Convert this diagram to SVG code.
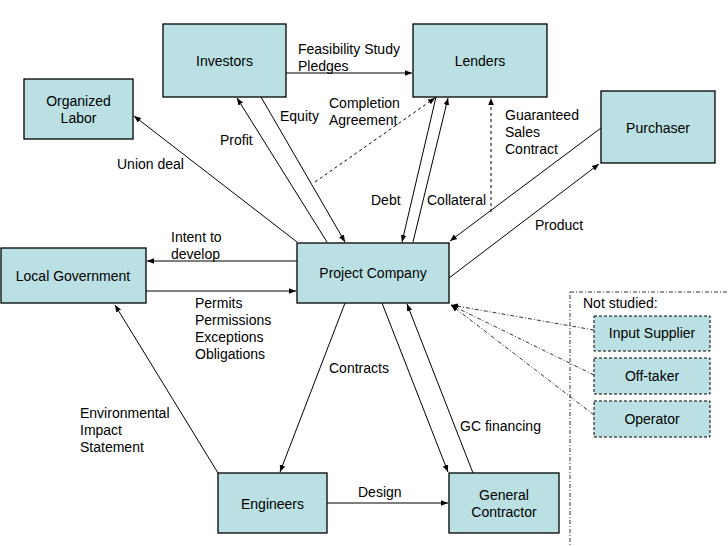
<svg xmlns="http://www.w3.org/2000/svg" width="728" height="546" viewBox="0 0 728 546">
<style>
.box{fill:#bbe0e3;stroke:#000;stroke-width:1.3}
.dbox{fill:#bbe0e3;stroke:#000;stroke-width:1;stroke-dasharray:3,2}
text{font-family:"Liberation Sans",Arial,sans-serif;font-size:14px;fill:#000}
.c{text-anchor:middle}
.ln{stroke:#000;stroke-width:1;fill:none}
.dash{stroke-dasharray:3,3}
.dd{stroke-dasharray:4,2,1,2;stroke-width:0.8}
</style>
<defs>
<marker id="ah" markerWidth="8" markerHeight="8" refX="7" refY="4" orient="auto" markerUnits="userSpaceOnUse">
<path d="M0,1.2 L7,4 L0,6.8 Z" fill="#000"/>
</marker>
</defs>
<rect x="570" y="292" width="170" height="270" fill="none" stroke="#000" stroke-width="0.8" stroke-dasharray="4,2,1,2"/>
<text x="583" y="308">Not studied:</text>
<g id="connectors">
<line class="ln" x1="286" y1="73" x2="412" y2="73" marker-end="url(#ah)"/>
<line class="ln" x1="297" y1="242" x2="134" y2="116" marker-end="url(#ah)"/>
<line class="ln" x1="327" y1="242" x2="237" y2="98" marker-end="url(#ah)"/>
<line class="ln" x1="261" y1="97" x2="345" y2="242" marker-end="url(#ah)"/>
<line class="ln" x1="436" y1="97" x2="402" y2="242" marker-end="url(#ah)"/>
<line class="ln" x1="413" y1="242" x2="448" y2="98" marker-end="url(#ah)"/>
<line class="ln dash" x1="315" y1="182" x2="435" y2="98" marker-end="url(#ah)"/>
<line class="ln dash" x1="491" y1="212" x2="491" y2="98" marker-end="url(#ah)"/>
<line class="ln" x1="601" y1="128" x2="450" y2="241" marker-end="url(#ah)"/>
<line class="ln" x1="449" y1="278" x2="599" y2="164" marker-end="url(#ah)"/>
<line class="ln" x1="297" y1="261" x2="147" y2="261" marker-end="url(#ah)"/>
<line class="ln" x1="146" y1="291" x2="296" y2="291" marker-end="url(#ah)"/>
<line class="ln" x1="218" y1="473" x2="115" y2="305" marker-end="url(#ah)"/>
<line class="ln" x1="345" y1="303" x2="280" y2="472" marker-end="url(#ah)"/>
<line class="ln" x1="382" y1="303" x2="448" y2="472" marker-end="url(#ah)"/>
<line class="ln" x1="473" y1="473" x2="407" y2="304" marker-end="url(#ah)"/>
<line class="ln" x1="327" y1="503" x2="448" y2="503" marker-end="url(#ah)"/>
<line class="ln dd" x1="594" y1="330" x2="451" y2="305" marker-end="url(#ah)"/>
<line class="ln dd" x1="594" y1="375" x2="451" y2="305" marker-end="url(#ah)"/>
<line class="ln dd" x1="594" y1="415" x2="451" y2="305" marker-end="url(#ah)"/>
</g>
<g id="labels">
<text x="298" y="54">Feasibility Study</text>
<text x="298" y="71">Pledges</text>
<text x="117" y="169">Union deal</text>
<text x="220" y="145">Profit</text>
<text x="280" y="121">Equity</text>
<text x="329" y="108">Completion</text>
<text x="329" y="125">Agreement</text>
<text x="371" y="205">Debt</text>
<text x="427" y="205">Collateral</text>
<text x="505" y="120">Guaranteed</text>
<text x="505" y="137">Sales</text>
<text x="505" y="154">Contract</text>
<text x="535" y="230">Product</text>
<text x="171" y="242">Intent to</text>
<text x="171" y="259">develop</text>
<text x="195" y="308">Permits</text>
<text x="195" y="325">Permissions</text>
<text x="195" y="342">Exceptions</text>
<text x="195" y="359">Obligations</text>
<text x="329" y="373">Contracts</text>
<text x="80" y="418">Environmental</text>
<text x="80" y="435">Impact</text>
<text x="80" y="452">Statement</text>
<text x="460" y="431">GC financing</text>
<text x="358" y="497">Design</text>
</g>
<g id="investors"><rect class="box" x="163" y="24" width="123" height="73"/><text class="c" x="224.5" y="66">Investors</text></g>
<g id="organized-labor"><rect class="box" x="24" y="79" width="109" height="60"/><text class="c" x="78.5" y="106">Organized</text><text class="c" x="78.5" y="123">Labor</text></g>
<g id="lenders"><rect class="box" x="413" y="24" width="134" height="73"/><text class="c" x="480" y="66">Lenders</text></g>
<g id="purchaser"><rect class="box" x="601" y="91" width="114" height="72"/><text class="c" x="658" y="133">Purchaser</text></g>
<g id="project-company"><rect class="box" x="297" y="243" width="152" height="60"/><text class="c" x="373" y="278">Project Company</text></g>
<g id="local-government"><rect class="box" x="1" y="248" width="145" height="55"/><text class="c" x="73" y="281">Local Government</text></g>
<g id="engineers"><rect class="box" x="218" y="473" width="109" height="60"/><text class="c" x="272.5" y="509">Engineers</text></g>
<g id="general-contractor"><rect class="box" x="449" y="473" width="110" height="60"/><text class="c" x="504" y="500">General</text><text class="c" x="504" y="517">Contractor</text></g>
<g id="input-supplier"><rect class="dbox" x="594" y="316" width="116" height="35"/><text class="c" x="652" y="338">Input Supplier</text></g>
<g id="off-taker"><rect class="dbox" x="594" y="358" width="116" height="36"/><text class="c" x="652" y="381">Off-taker</text></g>
<g id="operator"><rect class="dbox" x="594" y="401" width="116" height="36"/><text class="c" x="652" y="424">Operator</text></g>
</svg>
